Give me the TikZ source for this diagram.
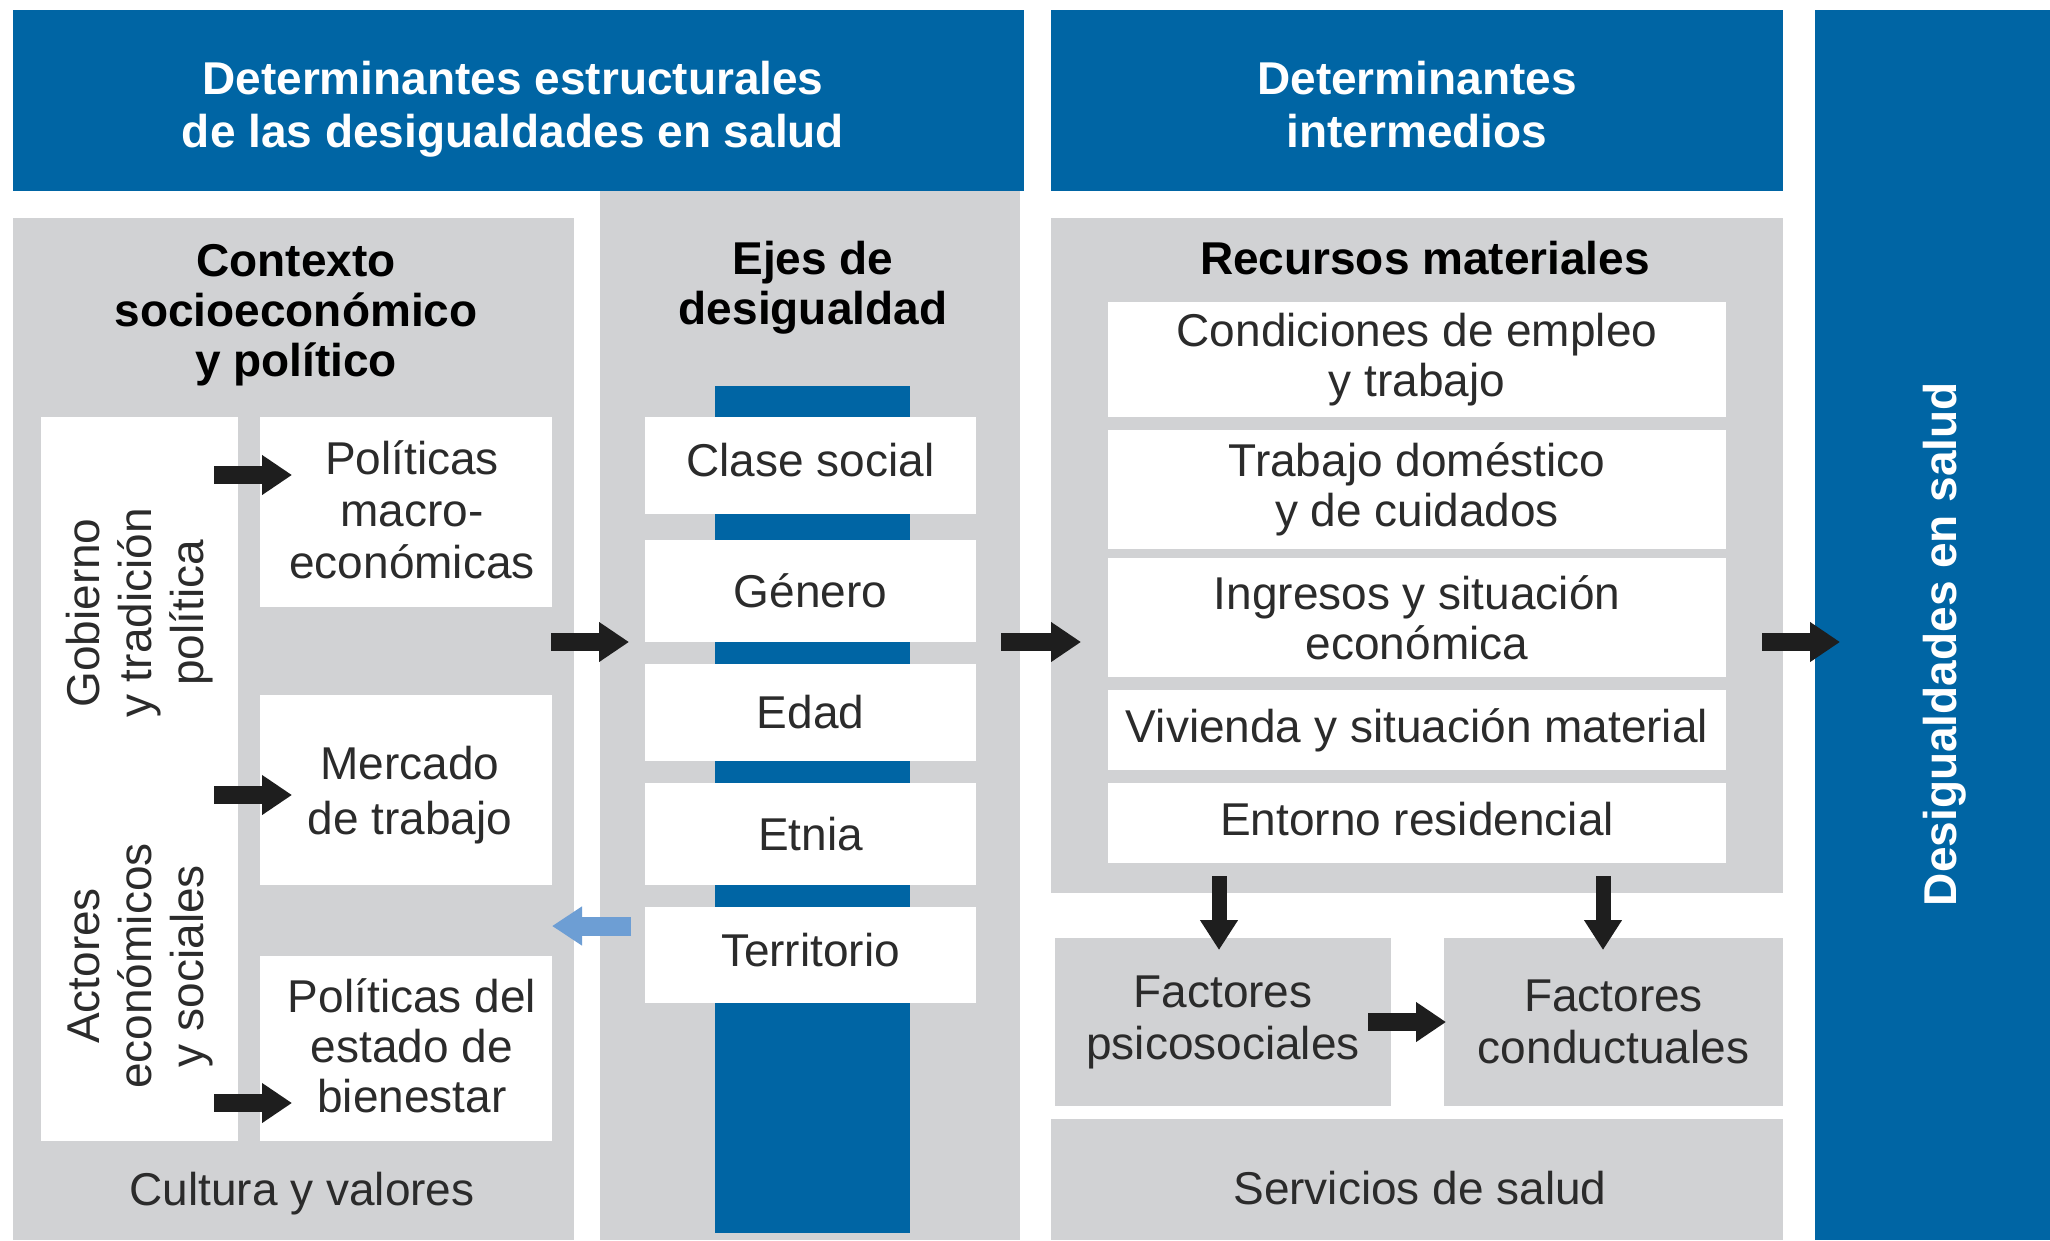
\documentclass[tikz,border=0pt]{standalone}
\usepackage{fontspec}
\setmainfont{Liberation Sans}
\usetikzlibrary{arrows.meta,calc}
\definecolor{dblue}{HTML}{0065A4}
\definecolor{lgray}{HTML}{D1D2D4}
\definecolor{txt}{HTML}{2B2B2B}
\definecolor{lblue}{HTML}{6D9ED4}
\definecolor{arrk}{HTML}{1E1E1E}
\tikzset{
  blk/.style={draw=none, inner sep=0pt, outer sep=0pt, anchor=center},
  bluebox/.style={blk, fill=dblue},
  graybox/.style={blk, fill=lgray},
  whitebox/.style={blk, fill=white},
  lbl/.style={inner sep=0pt, outer sep=0pt, align=center, text=txt, font=\fontsize{46}{50}\selectfont},
  rotlbl/.style={lbl, rotate=90, font=\fontsize{46}{52}\selectfont},
  hdr/.style={lbl, text=white, font=\fontsize{46}{53}\selectfont\bfseries},
  ttl/.style={lbl, text=black, font=\fontsize{46}{50}\selectfont\bfseries},
  fat/.style={line width=18pt, draw=arrk, -{Triangle[length=30pt,width=38pt]}},
  fatv/.style={line width=15pt, draw=arrk, -{Triangle[length=30pt,width=36pt]}},
  fatl/.style={line width=19pt, draw=lblue, -{Triangle[length=30pt,width=37pt]}},
}
\newcommand\mkbox[7]{\node[#1, minimum width={(#4)-(#2)}, minimum height={(#5)-(#3)}] (#6) at ({((#2)+(#4))/2},{((#3)+(#5))/2}) {#7};}
\begin{document}
\begin{tikzpicture}[x=1pt,y=-1pt]
\useasboundingbox[fill=white] (0,0) rectangle (2050,1240);
% headers
\mkbox{bluebox}{13}{10}{1024}{191}{h1}{}
\node[hdr] (h1t) at (513,109) {Determinantes estructurales\\de las desigualdades en salud};
\mkbox{bluebox}{1051}{10}{1783}{191}{h2}{}
\node[hdr] (h2t) at (1417,105) {Determinantes\\intermedios};
\mkbox{bluebox}{1815}{10}{2050}{1240}{rcol}{}
\node[hdr, rotate=90] (rcolt) at (1945,644) {Desigualdades en salud};
% contexto
\mkbox{graybox}{13}{218}{574}{1240}{ctx}{}
\node[ttl] (ctxt) at (296,315) {Contexto\\socioeconómico\\y político};
\mkbox{whitebox}{41}{417}{238}{1141}{lcol}{}
\node[rotlbl] (gob) at (140,613) {Gobierno\\y tradición\\política};
\node[rotlbl] (act) at (140,966) {Actores\\económicos\\y sociales};
\mkbox{whitebox}{260}{417}{552}{607}{pol1}{}
\node[lbl, font=\fontsize{46}{52}\selectfont] (pol1t) at (412,510) {Políticas\\macro-\\económicas};
\mkbox{whitebox}{260}{695}{552}{885}{merc}{}
\node[lbl, font=\fontsize{46}{55}\selectfont] (merct) at (410,795) {Mercado\\de trabajo};
\mkbox{whitebox}{260}{956}{552}{1141}{pol2}{}
\node[lbl] (pol2t) at (412,1046) {Políticas del\\estado de\\bienestar};
\node[lbl] (cult) at (302,1194) {Cultura y valores};
% ejes
\mkbox{graybox}{600}{191}{1020}{1240}{ejes}{}
\node[ttl] (ejest) at (813,288) {Ejes de\\desigualdad};
\mkbox{bluebox}{715}{386}{910}{1233}{bar}{}
\mkbox{whitebox}{645}{417}{976}{514}{clase}{}
\node[lbl] (clat) at (clase) [yshift=5pt] {Clase social};
\mkbox{whitebox,lbl}{645}{540}{976}{642}{gen}{Género}
\mkbox{whitebox,lbl}{645}{664}{976}{761}{edad}{Edad}
\mkbox{whitebox,lbl}{645}{783}{976}{885}{etnia}{Etnia}
\mkbox{whitebox}{645}{907}{976}{1003}{terr}{}
\node[lbl] (tert) at (terr) [yshift=5pt] {Territorio};
% recursos
\mkbox{graybox}{1051}{218}{1783}{893}{rec}{}
\node[ttl] (rect) at (1425,258) {Recursos materiales};
\mkbox{whitebox,lbl}{1108}{302}{1726}{417}{cond}{Condiciones de empleo\\y trabajo}
\mkbox{whitebox,lbl}{1108}{430}{1726}{549}{trab}{Trabajo doméstico\\y de cuidados}
\mkbox{whitebox,lbl}{1108}{558}{1726}{677}{ingr}{Ingresos y situación\\económica}
\mkbox{whitebox,lbl}{1108}{690}{1726}{770}{viv}{Vivienda y situación material}
\mkbox{whitebox}{1108}{783}{1726}{863}{ent}{}
\node[lbl] (entt) at (ent) [yshift=4pt] {Entorno residencial};
\mkbox{graybox,lbl,font=\fontsize{46}{52}\selectfont}{1055}{938}{1391}{1106}{psi}{Factores\\psicosociales}
\mkbox{graybox,lbl,font=\fontsize{46}{52}\selectfont}{1444}{938}{1783}{1106}{con}{Factores\\conductuales}
\mkbox{graybox}{1051}{1119}{1783}{1240}{serv}{}
\node[lbl] (servt) at (1420,1188) {Servicios de salud};
% arrow levels
\coordinate (ya) at (0,475);
\coordinate (yb) at (0,795);
\coordinate (yc) at (0,1103);
\coordinate (ym) at (0,642);
\coordinate (yt) at (0,926);
% arrows
\draw[fat] ($(lcol.east|-ya)+(-24,0)$) -- ($(pol1.west|-ya)+(32,0)$);
\draw[fat] ($(lcol.east|-yb)+(-24,0)$) -- ($(merc.west|-yb)+(32,0)$);
\draw[fat] ($(lcol.east|-yc)+(-24,0)$) -- ($(pol2.west|-yc)+(32,0)$);
\draw[fat] ($(ctx.east|-ym)+(-23,0)$) -- ($(ejes.west|-ym)+(29,0)$);
\draw[fat] ($(ejes.east|-ym)+(-19,0)$) -- ($(rec.west|-ym)+(30,0)$);
\draw[fat] ($(rec.east|-ym)+(-21,0)$) -- ($(rcol.west|-ym)+(25,0)$);
\draw[fatv] ($(psi.north)+(-4,-62)$) -- ($(psi.north)+(-4,12)$);
\draw[fatv] ($(con.north)+(-10.5,-62)$) -- ($(con.north)+(-10.5,12)$);
\draw[fat] ($(psi.east)+(-23,0)$) -- ($(con.west)+(2,0)$);
\draw[fatl] ($(terr.west|-yt)+(-14,0)$) -- (pol2.east|-yt);
\end{tikzpicture}
\end{document}
